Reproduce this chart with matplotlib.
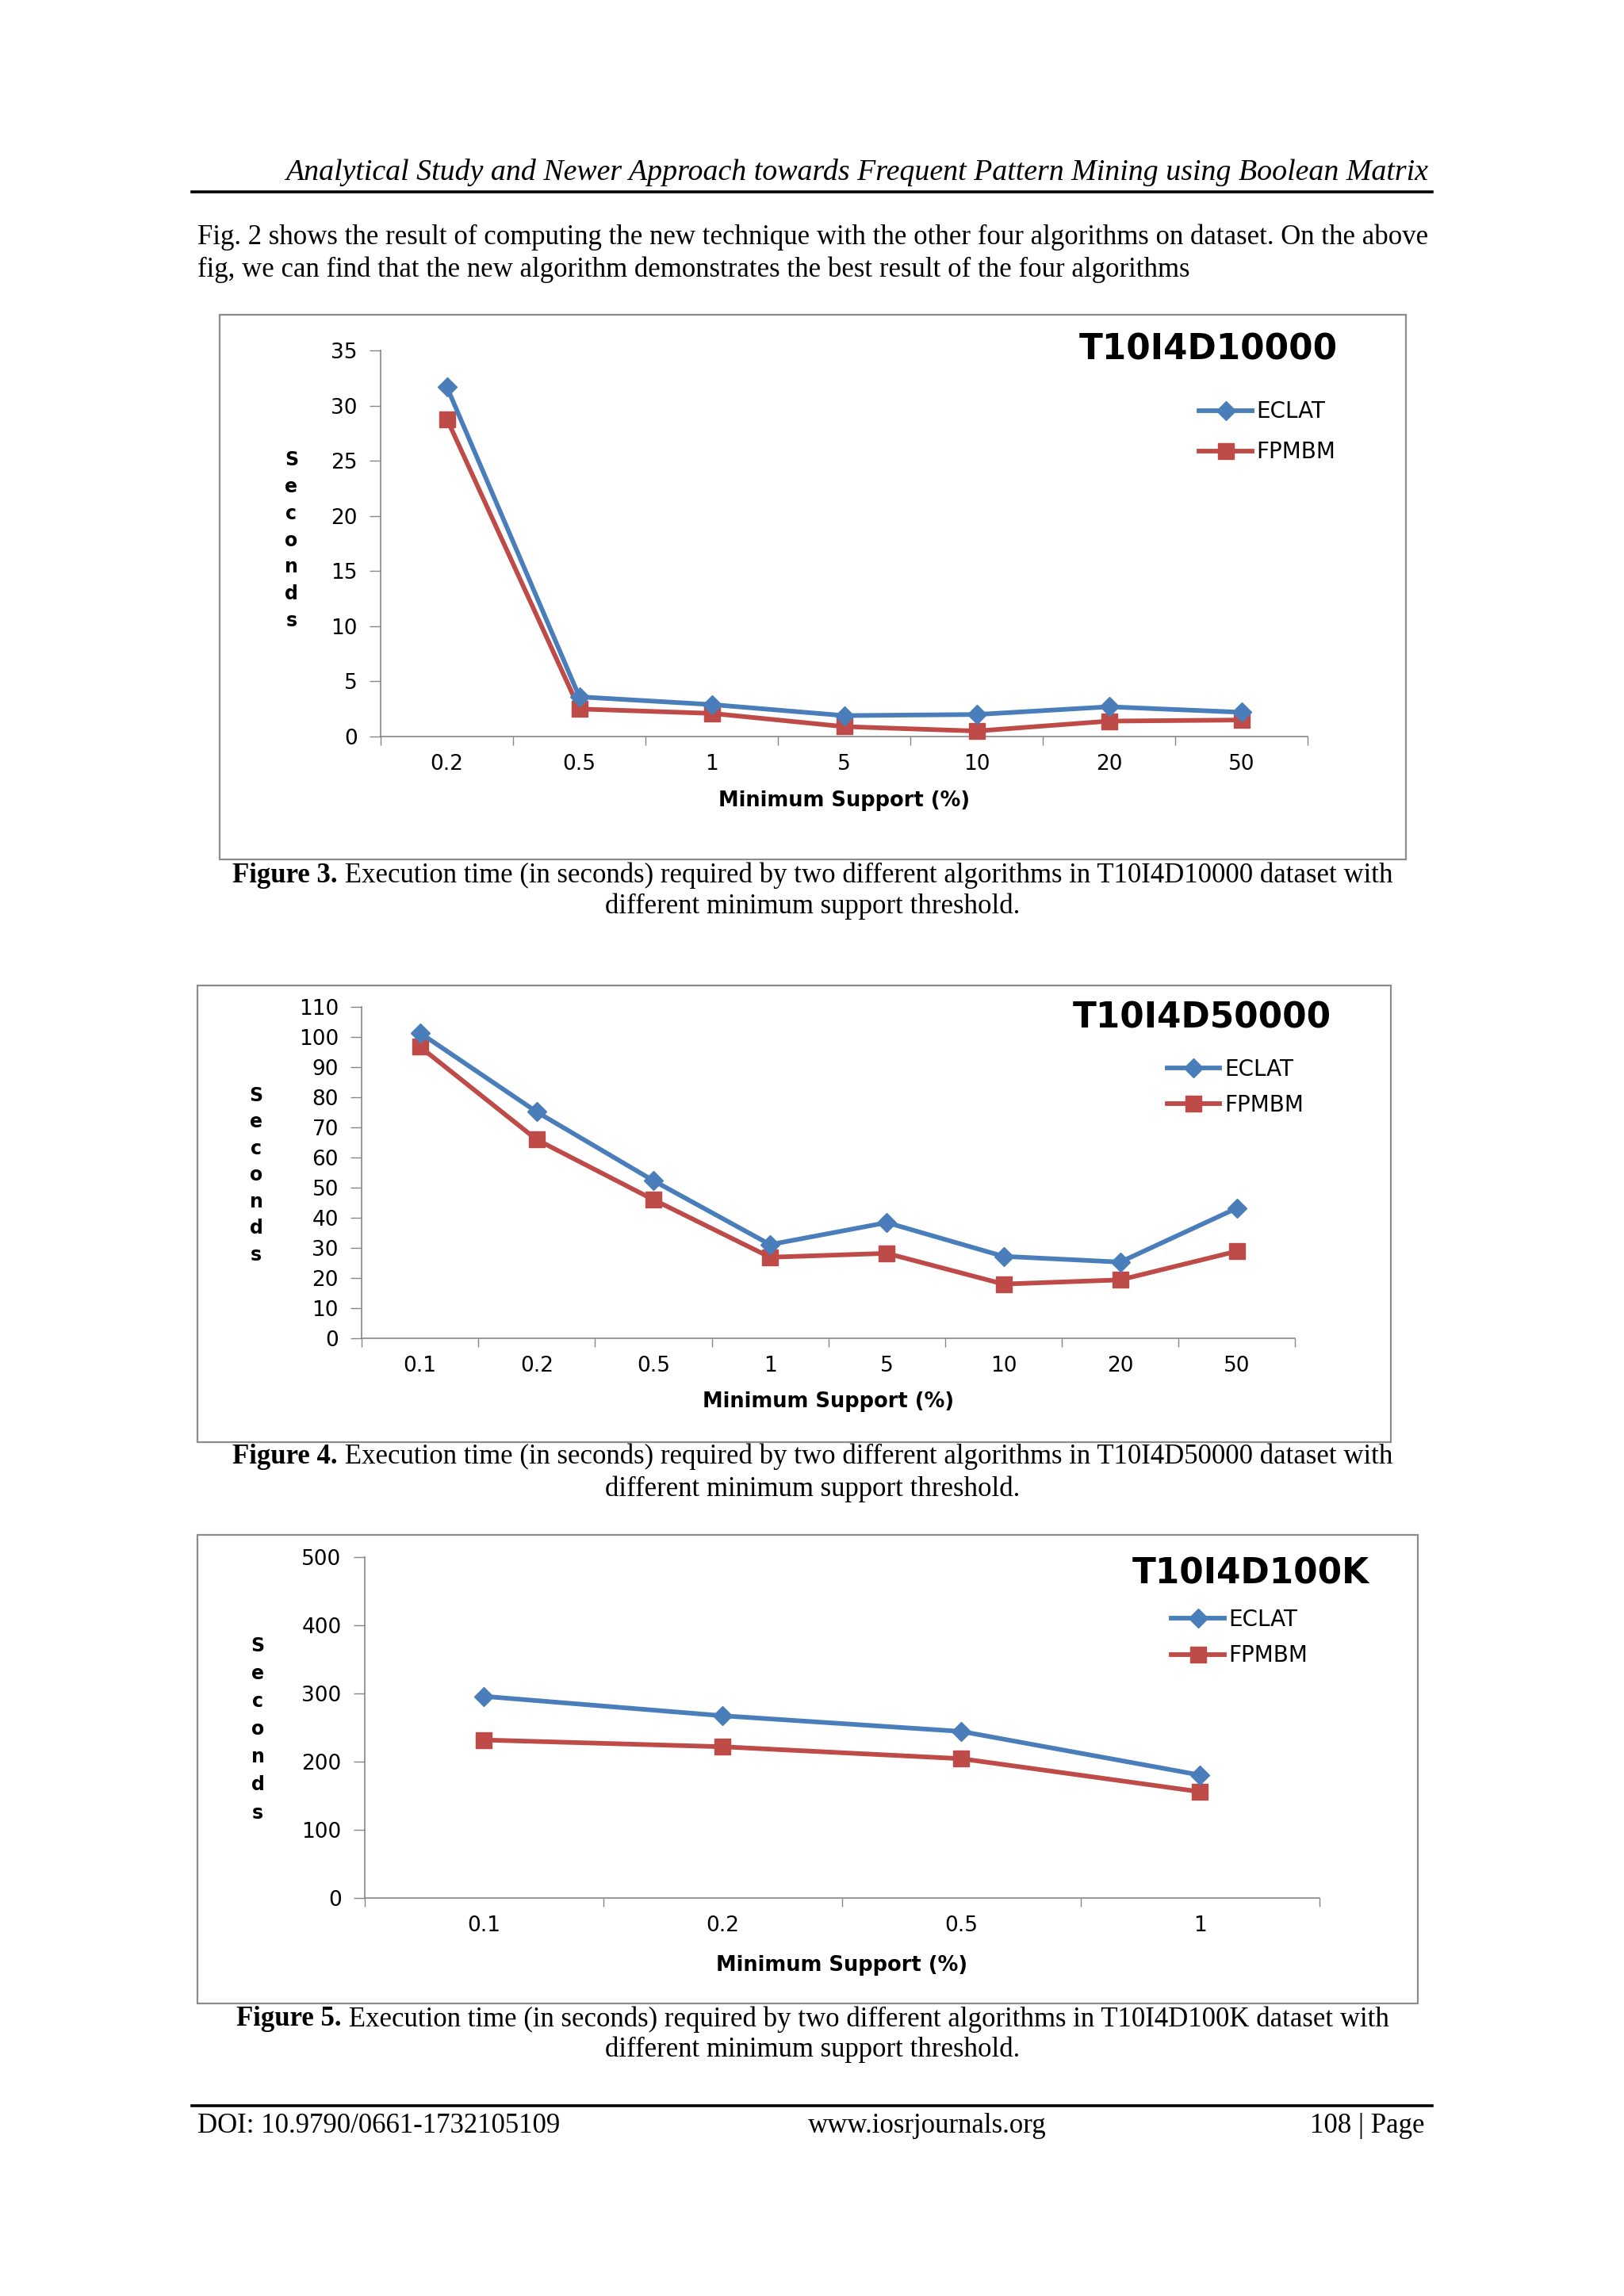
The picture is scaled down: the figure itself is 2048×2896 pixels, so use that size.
"""Page from the FPMBM paper: three ECLAT vs FPMBM execution time charts."""
import matplotlib
matplotlib.use("Agg")
import matplotlib.pyplot as plt
from matplotlib.patches import Rectangle
from matplotlib.lines import Line2D
import numpy as np

# ---- data (seconds) ----
supp1 = ["0.2", "0.5", "1", "5", "10", "20", "50"]
eclat1 = [31.7, 3.6, 2.9, 1.9, 2.0, 2.7, 2.2]
fpmbm1 = [28.8, 2.5, 2.1, 0.9, 0.5, 1.4, 1.5]

supp2 = ["0.1", "0.2", "0.5", "1", "5", "10", "20", "50"]
eclat2 = [101.3, 75.1, 52.3, 31.1, 38.4, 27.2, 25.3, 43.2]
fpmbm2 = [96.7, 65.9, 46.0, 26.9, 28.2, 18.0, 19.4, 28.9]

supp3 = ["0.1", "0.2", "0.5", "1"]
eclat3 = [295.5, 267.0, 244.0, 180.0]
fpmbm3 = [231.5, 221.5, 204.0, 155.5]

titles = ["T10I4D10000", "T10I4D50000", "T10I4D100K"]
series_names = ["ECLAT", "FPMBM"]

BLUE = "#4A7EBB"
RED = "#BE4B48"
AXIS_GRAY = "#868686"
SERIF = ["Liberation Serif", "DejaVu Serif"]
SANS = ["DejaVu Sans"]
BODY = 25
CHART_FS = 19

# page layout is measured on a 1109 x 1568 preview
PW, PH = 1109.0, 1568.0


def fx(x):
    return x / PW


def fy(y):
    return 1.0 - y / PH


fig = plt.figure(figsize=(20.48, 28.96), dpi=100)
fig.patch.set_facecolor("white")
renderer = fig.canvas.get_renderer()

# header
fig.text(fx(975), fy(118), "Analytical Study and Newer Approach towards Frequent Pattern Mining using Boolean Matrix",
         ha="right", va="center", fontsize=27.3, fontstyle="italic", family=SERIF)
fig.add_artist(Line2D([fx(131), fx(978)], [fy(131), fy(131)], color="black", lw=2.6,
                      transform=fig.transFigure))

fig.text(fx(135), fy(162), "Fig. 2 shows the result of computing the new technique with the other four algorithms on dataset. On the above",
         ha="left", va="center", fontsize=BODY, family=SERIF)
fig.text(fx(135), fy(184), "fig, we can find that the new algorithm demonstrates the best result of the four algorithms",
         ha="left", va="center", fontsize=BODY, family=SERIF)

charts = [
    dict(cats=supp1, e=eclat1, f=fpmbm1, title=titles[0], fig_no="Figure 3.",
         box=(150, 215, 960, 587), ax=(260, 893, 503, 239.5), ymax=35, step=5,
         tpos=(825, 239), leg=(819, 295), lsp=0.82, ylab=(199, 314, 424), xlab=547,
         cap=(598, 619)),
    dict(cats=supp2, e=eclat2, f=fpmbm2, title=titles[1], fig_no="Figure 4.",
         box=(135, 673, 950, 985), ax=(247, 884.5, 914, 687.5), ymax=110, step=10,
         tpos=(821, 695), leg=(797, 742.5), lsp=0.62, ylab=(175, 748, 857), xlab=957,
         cap=(995, 1017)),
    dict(cats=supp3, e=eclat3, f=fpmbm3, title=titles[2], fig_no="Figure 5.",
         box=(135, 1048, 968, 1368), ax=(249, 901, 1296, 1063.3), ymax=500, step=100,
         tpos=(854, 1075), leg=(800, 1118.5), lsp=0.62, ylab=(176, 1124, 1238), xlab=1342,
         cap=(1379, 1400)),
]

for c in charts:
    bx0, by0, bx1, by1 = c["box"]
    fig.add_artist(Rectangle((fx(bx0), fy(by1)), fx(bx1) - fx(bx0), fy(by0) - fy(by1),
                             transform=fig.transFigure, fill=False, edgecolor="#8C8C8C", lw=1.6))

    x0, x1, yb, yt = c["ax"]
    ax = fig.add_axes([fx(x0), fy(yb), fx(x1) - fx(x0), fy(yt) - fy(yb)])
    ax.set_facecolor("none")
    n = len(c["cats"])
    xs = np.arange(n)
    ax.plot(xs, c["e"], color=BLUE, lw=4.2, marker="D", markersize=12.5,
            label=series_names[0], clip_on=False, zorder=4)
    ax.plot(xs, c["f"], color=RED, lw=4.2, marker="s", markersize=15,
            label=series_names[1], clip_on=False, zorder=3)

    ax.set_xlim(-0.5, n - 0.5)
    ax.set_ylim(0, c["ymax"])
    ax.set_yticks(np.arange(0, c["ymax"] + 1, c["step"]))
    ax.set_xticks(xs)
    ax.set_xticklabels(c["cats"])
    ax.set_xticks(np.arange(-0.5, n, 1.0), minor=True)
    ax.tick_params(axis="x", which="major", length=0, pad=16, labelsize=CHART_FS)
    ax.tick_params(axis="x", which="minor", length=8, width=1, color=AXIS_GRAY)
    ax.tick_params(axis="y", which="major", length=10, width=1, color=AXIS_GRAY,
                   pad=11, labelsize=CHART_FS)
    for lab in ax.get_xticklabels() + ax.get_yticklabels():
        lab.set_family(SANS)
    for s in ["top", "right"]:
        ax.spines[s].set_visible(False)
    for s in ["left", "bottom"]:
        ax.spines[s].set_color(AXIS_GRAY)
        ax.spines[s].set_linewidth(1.2)

    # chart title
    fig.text(fx(c["tpos"][0]), fy(c["tpos"][1]), c["title"], ha="center", va="center",
             fontsize=31.5, fontweight="bold", family=SANS)

    # legend
    ax.legend(loc="center left", bbox_to_anchor=(fx(c["leg"][0]), fy(c["leg"][1])),
              bbox_transform=fig.transFigure, frameon=False,
              handlelength=2.4, handletextpad=0.2, labelspacing=c["lsp"],
              borderpad=0, borderaxespad=0, prop={"family": SANS, "size": 20})

    # stacked y-axis label
    lx, ly0, ly1 = c["ylab"]
    letters = list("Seconds")
    for i, ch in enumerate(letters):
        yy = ly0 + (ly1 - ly0) * i / (len(letters) - 1)
        fig.text(fx(lx), fy(yy), ch, ha="center", va="center", fontsize=17,
                 fontweight="bold", family=SANS)

    fig.text(fx((x0 + x1) / 2), fy(c["xlab"]), "Minimum Support (%)", ha="center",
             va="center", fontsize=18.5, fontweight="bold", family=SANS)

    # caption: bold figure number followed by regular text, centred as one line
    rest = (" Execution time (in seconds) required by two different algorithms in "
            + c["title"] + " dataset with")
    tb = fig.text(0, fy(c["cap"][0]), c["fig_no"], ha="left", va="center",
                  fontsize=BODY, fontweight="bold", family=SERIF)
    tr = fig.text(0, fy(c["cap"][0]), rest, ha="left", va="center",
                  fontsize=BODY, family=SERIF)
    wb = tb.get_window_extent(renderer).width / fig.bbox.width
    wr = tr.get_window_extent(renderer).width / fig.bbox.width
    start = fx(555) - (wb + wr) / 2
    tb.set_x(start)
    tr.set_x(start + wb)
    fig.text(fx(555), fy(c["cap"][1]), "different minimum support threshold.", ha="center",
             va="center", fontsize=BODY, family=SERIF)

# footer
fig.add_artist(Line2D([fx(131), fx(978)], [fy(1438), fy(1438)], color="black", lw=2.6,
                      transform=fig.transFigure))
fig.text(fx(135), fy(1452), "DOI: 10.9790/0661-1732105109", ha="left", va="center",
         fontsize=BODY, family=SERIF)
fig.text(fx(633), fy(1452), "www.iosrjournals.org", ha="center", va="center",
         fontsize=BODY, family=SERIF)
fig.text(fx(973), fy(1452), "108 | Page", ha="right", va="center",
         fontsize=BODY, family=SERIF)

fig.savefig("out.png", dpi=100, facecolor="white")
